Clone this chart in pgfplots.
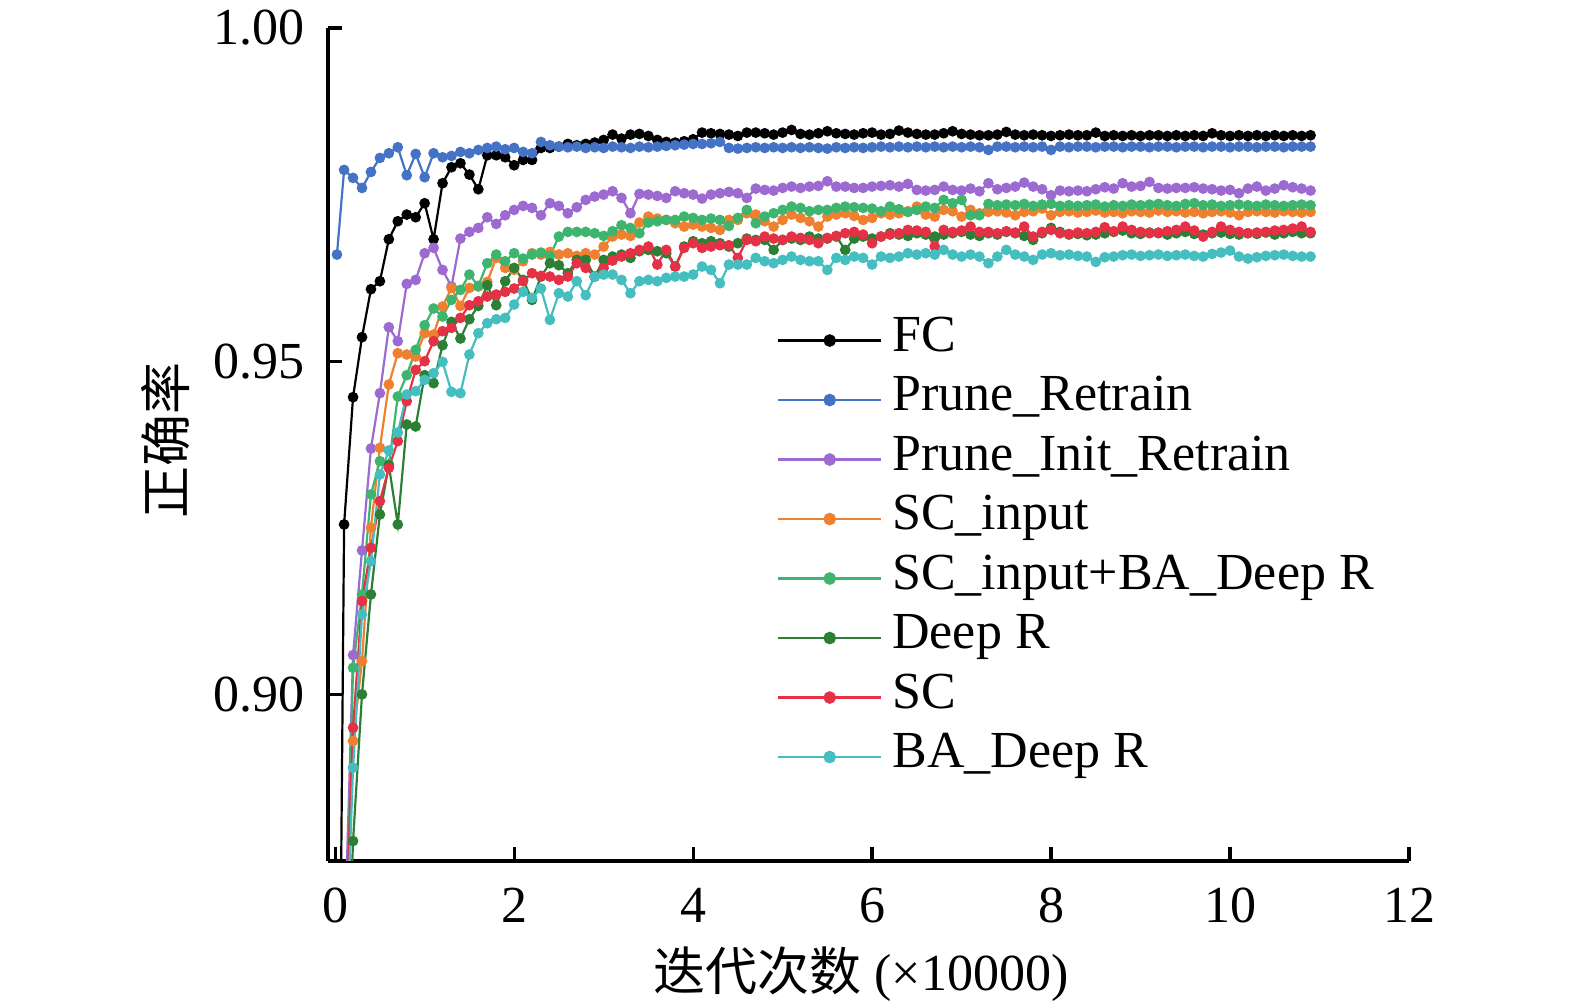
\documentclass[border=0pt]{standalone}
\usepackage{pgfplots}
\usepackage{pgfplotstable}
\pgfplotsset{compat=1.18}
\usepackage{fontspec}
\setmainfont{Liberation Serif}
\newfontfamily\cjk{Noto Sans CJK SC}
\definecolor{cFC}{HTML}{000000}
\definecolor{cPR}{HTML}{4472C4}
\definecolor{cPIR}{HTML}{9C6AD0}
\definecolor{cSCI}{HTML}{EE8030}
\definecolor{cSCIB}{HTML}{3DB56F}
\definecolor{cDR}{HTML}{2B8035}
\definecolor{cSC}{HTML}{E53145}
\definecolor{cBA}{HTML}{45BEC0}

\pgfplotstableread{
x fc pr pir sci scib dr sc ba
0.02 0.8000 0.9660 nan nan nan nan nan nan
0.1 0.9255 0.9787 0.8600 0.8550 0.8500 0.8400 0.8580 0.8520
0.2 0.9446 0.9775 0.9059 0.8930 0.9040 0.8780 0.8950 0.8890
0.3 0.9536 0.9760 0.9216 0.9050 0.9150 0.9000 0.9140 0.9120
0.4 0.9608 0.9784 0.9369 0.9250 0.9300 0.9150 0.9220 0.9200
0.5 0.9620 0.9805 0.9452 0.9370 0.9350 0.9270 0.9290 0.9330
0.6 0.9683 0.9812 0.9551 0.9465 0.9345 0.9344 0.9340 0.9366
0.7 0.9710 0.9821 0.9530 0.9512 0.9447 0.9255 0.9380 0.9393
0.8 0.9720 0.9779 0.9616 0.9510 0.9479 0.9405 0.9440 0.9450
0.9 0.9716 0.9811 0.9622 0.9507 0.9517 0.9402 0.9487 0.9455
1.0 0.9737 0.9776 0.9662 0.9542 0.9554 0.9479 0.9500 0.9472
1.1 0.9683 0.9812 0.9670 0.9540 0.9579 0.9467 0.9530 0.9482
1.2 0.9767 0.9806 0.9637 0.9582 0.9567 0.9524 0.9545 0.9499
1.3 0.9791 0.9808 0.9612 0.9610 0.9592 0.9559 0.9550 0.9454
1.4 0.9797 0.9814 0.9684 0.9583 0.9607 0.9534 0.9565 0.9452
1.5 0.9780 0.9812 0.9694 0.9610 0.9630 0.9563 0.9584 0.9510
1.6 0.9758 0.9817 0.9700 0.9612 0.9613 0.9583 0.9590 0.9542
1.7 0.9809 0.9820 0.9716 0.9619 0.9647 0.9614 0.9597 0.9557
1.8 0.9809 0.9822 0.9706 0.9655 0.9660 0.9584 0.9600 0.9563
1.9 0.9806 0.9818 0.9719 0.9640 0.9650 0.9620 0.9604 0.9565
2.0 0.9794 0.9820 0.9727 0.9637 0.9662 0.9640 0.9609 0.9585
2.1 0.9802 0.9814 0.9733 0.9650 0.9654 0.9622 0.9620 0.9604
2.2 0.9802 0.9812 0.9730 0.9662 0.9660 0.9592 0.9632 0.9595
2.3 0.9820 0.9829 0.9719 0.9660 0.9663 0.9627 0.9628 0.9609
2.4 0.9820 0.9824 0.9737 0.9664 0.9658 0.9647 0.9627 0.9562
2.5 0.9822 0.9822 0.9733 0.9660 0.9687 0.9644 0.9622 0.9602
2.6 0.9826 0.9821 0.9722 0.9662 0.9694 0.9632 0.9627 0.9597
2.7 0.9824 0.9822 0.9731 0.9658 0.9694 0.9652 0.9647 0.9620
2.8 0.9826 0.9820 0.9742 0.9662 0.9694 0.9652 0.9640 0.9599
2.9 0.9828 0.9821 0.9747 0.9660 0.9692 0.9627 0.9627 0.9627
3.0 0.9832 0.9820 0.9750 0.9672 0.9688 0.9652 0.9640 0.9630
3.1 0.9840 0.9822 0.9755 0.9687 0.9695 0.9657 0.9651 0.9630
3.2 0.9834 0.9821 0.9745 0.9690 0.9704 0.9660 0.9657 0.9622
3.3 0.9840 0.9820 0.9722 0.9688 0.9700 0.9655 0.9662 0.9602
3.4 0.9841 0.9822 0.9751 0.9708 0.9692 0.9665 0.9667 0.9620
3.5 0.9838 0.9821 0.9750 0.9717 0.9708 0.9667 0.9672 0.9622
3.6 0.9832 0.9822 0.9748 0.9714 0.9710 0.9665 0.9645 0.9620
3.7 0.9829 0.9823 0.9745 0.9712 0.9712 0.9662 0.9667 0.9625
3.8 0.9828 0.9824 0.9755 0.9707 0.9712 0.9642 0.9642 0.9627
3.9 0.9830 0.9825 0.9752 0.9702 0.9717 0.9672 0.9670 0.9627
4.0 0.9833 0.9826 0.9750 0.9705 0.9715 0.9680 0.9677 0.9630
4.1 0.9843 0.9826 0.9744 0.9702 0.9712 0.9677 0.9670 0.9642
4.2 0.9842 0.9827 0.9750 0.9700 0.9714 0.9680 0.9672 0.9637
4.3 0.9841 0.9829 0.9752 0.9697 0.9712 0.9677 0.9674 0.9617
4.4 0.9840 0.9820 0.9754 0.9712 0.9703 0.9672 0.9674 0.9645
4.5 0.9838 0.9819 0.9752 0.9712 0.9715 0.9677 0.9655 0.9645
4.6 0.9843 0.9820 0.9745 0.9722 0.9727 0.9684 0.9682 0.9645
4.7 0.9843 0.9821 0.9759 0.9720 0.9707 0.9682 0.9680 0.9655
4.8 0.9842 0.9820 0.9757 0.9710 0.9717 0.9682 0.9687 0.9650
4.9 0.9840 0.9821 0.9756 0.9702 0.9722 0.9667 0.9684 0.9647
5.0 0.9843 0.9820 0.9760 0.9712 0.9727 0.9682 0.9682 0.9652
5.1 0.9847 0.9821 0.9762 0.9720 0.9732 0.9684 0.9687 0.9657
5.2 0.9841 0.9820 0.9760 0.9715 0.9730 0.9682 0.9685 0.9652
5.3 0.9840 0.9821 0.9762 0.9710 0.9725 0.9687 0.9682 0.9650
5.4 0.9842 0.9820 0.9763 0.9702 0.9727 0.9684 0.9677 0.9650
5.5 0.9845 0.9819 0.9770 0.9717 0.9727 0.9684 0.9685 0.9637
5.6 0.9842 0.9821 0.9762 0.9720 0.9730 0.9687 0.9688 0.9655
5.7 0.9841 0.9820 0.9762 0.9722 0.9732 0.9667 0.9692 0.9652
5.8 0.9840 0.9821 0.9760 0.9718 0.9731 0.9684 0.9694 0.9657
5.9 0.9842 0.9820 0.9760 0.9712 0.9730 0.9687 0.9690 0.9655
6.0 0.9843 0.9821 0.9762 0.9715 0.9729 0.9684 0.9677 0.9645
6.1 0.9840 0.9822 0.9763 0.9722 0.9725 0.9687 0.9687 0.9657
6.2 0.9841 0.9821 0.9764 0.9720 0.9732 0.9692 0.9690 0.9655
6.3 0.9846 0.9822 0.9762 0.9722 0.9728 0.9690 0.9692 0.9657
6.4 0.9843 0.9821 0.9766 0.9725 0.9724 0.9688 0.9697 0.9662
6.5 0.9841 0.9822 0.9757 0.9732 0.9727 0.9692 0.9696 0.9660
6.6 0.9840 0.9821 0.9756 0.9720 0.9732 0.9690 0.9694 0.9662
6.7 0.9840 0.9822 0.9757 0.9717 0.9730 0.9687 0.9672 0.9660
6.8 0.9842 0.9821 0.9762 0.9727 0.9742 0.9690 0.9697 0.9667
6.9 0.9845 0.9822 0.9757 0.9725 0.9737 0.9692 0.9694 0.9660
7.0 0.9841 0.9821 0.9756 0.9717 0.9742 0.9694 0.9696 0.9657
7.1 0.9840 0.9822 0.9759 0.9727 0.9719 0.9690 0.9702 0.9660
7.2 0.9839 0.9821 0.9755 0.9722 0.9719 0.9688 0.9694 0.9657
7.3 0.9839 0.9817 0.9767 0.9724 0.9736 0.9692 0.9694 0.9647
7.4 0.9840 0.9822 0.9758 0.9725 0.9734 0.9690 0.9692 0.9657
7.5 0.9844 0.9822 0.9760 0.9723 0.9735 0.9694 0.9695 0.9667
7.6 0.9840 0.9821 0.9762 0.9719 0.9734 0.9692 0.9693 0.9660
7.7 0.9839 0.9822 0.9768 0.9724 0.9736 0.9688 0.9702 0.9657
7.8 0.9840 0.9821 0.9762 0.9725 0.9733 0.9682 0.9687 0.9652
7.9 0.9839 0.9822 0.9758 0.9729 0.9735 0.9692 0.9694 0.9660
8.0 0.9838 0.9817 0.9749 0.9719 0.9736 0.9700 0.9697 0.9662
8.1 0.9839 0.9822 0.9756 0.9724 0.9733 0.9694 0.9692 0.9659
8.2 0.9840 0.9821 0.9755 0.9725 0.9734 0.9690 0.9691 0.9660
8.3 0.9839 0.9822 0.9756 0.9723 0.9733 0.9691 0.9693 0.9658
8.4 0.9839 0.9822 0.9755 0.9724 0.9734 0.9689 0.9692 0.9657
8.5 0.9843 0.9821 0.9758 0.9726 0.9735 0.9690 0.9694 0.9649
8.6 0.9838 0.9822 0.9761 0.9723 0.9732 0.9692 0.9701 0.9656
8.7 0.9839 0.9822 0.9759 0.9724 0.9734 0.9694 0.9695 0.9657
8.8 0.9838 0.9821 0.9767 0.9722 0.9733 0.9696 0.9702 0.9659
8.9 0.9839 0.9822 0.9762 0.9725 0.9735 0.9692 0.9697 0.9660
9.0 0.9838 0.9822 0.9763 0.9724 0.9734 0.9691 0.9694 0.9658
9.1 0.9839 0.9821 0.9769 0.9723 0.9735 0.9693 0.9692 0.9659
9.2 0.9839 0.9822 0.9760 0.9726 0.9736 0.9692 0.9693 0.9660
9.3 0.9838 0.9822 0.9759 0.9724 0.9734 0.9690 0.9695 0.9658
9.4 0.9839 0.9821 0.9760 0.9725 0.9733 0.9692 0.9697 0.9659
9.5 0.9838 0.9822 0.9760 0.9723 0.9736 0.9694 0.9702 0.9660
9.6 0.9839 0.9822 0.9761 0.9724 0.9737 0.9691 0.9696 0.9658
9.7 0.9838 0.9821 0.9759 0.9722 0.9734 0.9690 0.9687 0.9657
9.8 0.9842 0.9822 0.9758 0.9724 0.9735 0.9692 0.9694 0.9661
9.9 0.9839 0.9822 0.9756 0.9725 0.9733 0.9693 0.9702 0.9663
10.0 0.9838 0.9821 0.9757 0.9723 0.9734 0.9691 0.9697 0.9666
10.1 0.9839 0.9822 0.9752 0.9719 0.9735 0.9690 0.9694 0.9657
10.2 0.9838 0.9822 0.9759 0.9724 0.9734 0.9692 0.9692 0.9654
10.3 0.9839 0.9821 0.9762 0.9725 0.9733 0.9691 0.9693 0.9656
10.4 0.9838 0.9822 0.9756 0.9724 0.9735 0.9693 0.9694 0.9658
10.5 0.9839 0.9822 0.9759 0.9723 0.9734 0.9690 0.9696 0.9659
10.6 0.9838 0.9821 0.9764 0.9725 0.9733 0.9692 0.9697 0.9660
10.7 0.9839 0.9822 0.9761 0.9724 0.9734 0.9694 0.9699 0.9658
10.8 0.9838 0.9822 0.9759 0.9723 0.9735 0.9692 0.9702 0.9657
10.9 0.9839 0.9822 0.9756 0.9724 0.9734 0.9692 0.9694 0.9657
}\datatable

\begin{document}
\begin{tikzpicture}
\begin{axis}[
  scale only axis,
  width=270.25pt, height=208.25pt,
  xmin=-0.08, xmax=12, ymin=0.875, ymax=1.0,
  axis lines*=left,
  axis line style={line width=0.8pt, black},
  tick align=inside,
  major tick length=3.5pt,
  tick style={line width=0.8pt, black},
  xtick={0,2,4,6,8,10,12},
  ytick={0.90,0.95,1.00},
  minor tick num=0,
  font=\fontsize{13}{15.6}\selectfont,
  tick label style={font=\fontsize{13}{15.6}\selectfont},
  /pgf/number format/assume math mode=true,
  yticklabel style={/pgf/number format/.cd, fixed, fixed zerofill, precision=2, /tikz/.cd, xshift=-2.4pt},
  xticklabel style={/pgf/number format/.cd, fixed, precision=0, /tikz/.cd, yshift=-3.3pt},
  scaled y ticks=false,
  xlabel={{\cjk 迭代次数} (×10000)},
  xlabel style={at={(axis description cs:0.493,0)}, anchor=base, yshift=-32.5pt, inner sep=0pt},
  ylabel={\cjk 正确率},
  ylabel style={at={(axis description cs:0,0.505)}, anchor=center, yshift=40.5pt, inner sep=0pt},
  every axis plot/.append style={line width=0.55pt, mark=*, mark size=1.05pt},
  legend image code/.code={
    \draw[mark repeat=2,mark phase=2,#1,mark size=1.3pt] plot coordinates {(0pt,-0.6pt) (12.875pt,-0.6pt) (25.75pt,-0.6pt)};
  },
  legend style={at={(axis cs:4.939,0.95721)}, anchor=north west, draw=none, fill=none,
    inner sep=0pt, outer sep=0pt, row sep=2.375pt,
    font=\fontsize{13}{15.6}\selectfont,
    nodes={inner sep=0pt, text height=9.5pt, text depth=3pt},
    /tikz/every odd column/.append style={column sep=2.5pt}},
  legend cell align=left,
]
\addplot[color=cFC, mark options={fill=cFC}] table[x=x, y=fc] {\datatable};
\addlegendentry{FC}
\addplot[color=cPR, mark options={fill=cPR}] table[x=x, y=pr] {\datatable};
\addlegendentry{Prune\_Retrain}
\addplot[color=cPIR, mark options={fill=cPIR}] table[x=x, y=pir] {\datatable};
\addlegendentry{Prune\_Init\_Retrain}
\addplot[color=cSCI, mark options={fill=cSCI}] table[x=x, y=sci] {\datatable};
\addlegendentry{SC\_input}
\addplot[color=cSCIB, mark options={fill=cSCIB}] table[x=x, y=scib] {\datatable};
\addlegendentry{SC\_input+BA\_Deep R}
\addplot[color=cDR, mark options={fill=cDR}] table[x=x, y=dr] {\datatable};
\addlegendentry{Deep R}
\addplot[color=cSC, mark options={fill=cSC}] table[x=x, y=sc] {\datatable};
\addlegendentry{SC}
\addplot[color=cBA, mark options={fill=cBA}] table[x=x, y=ba] {\datatable};
\addlegendentry{BA\_Deep R}
\end{axis}
\pgfresetboundingbox
\path[use as bounding box] (-82pt,-36.25pt) rectangle (311.75pt,215.25pt);
\end{tikzpicture}
\end{document}
